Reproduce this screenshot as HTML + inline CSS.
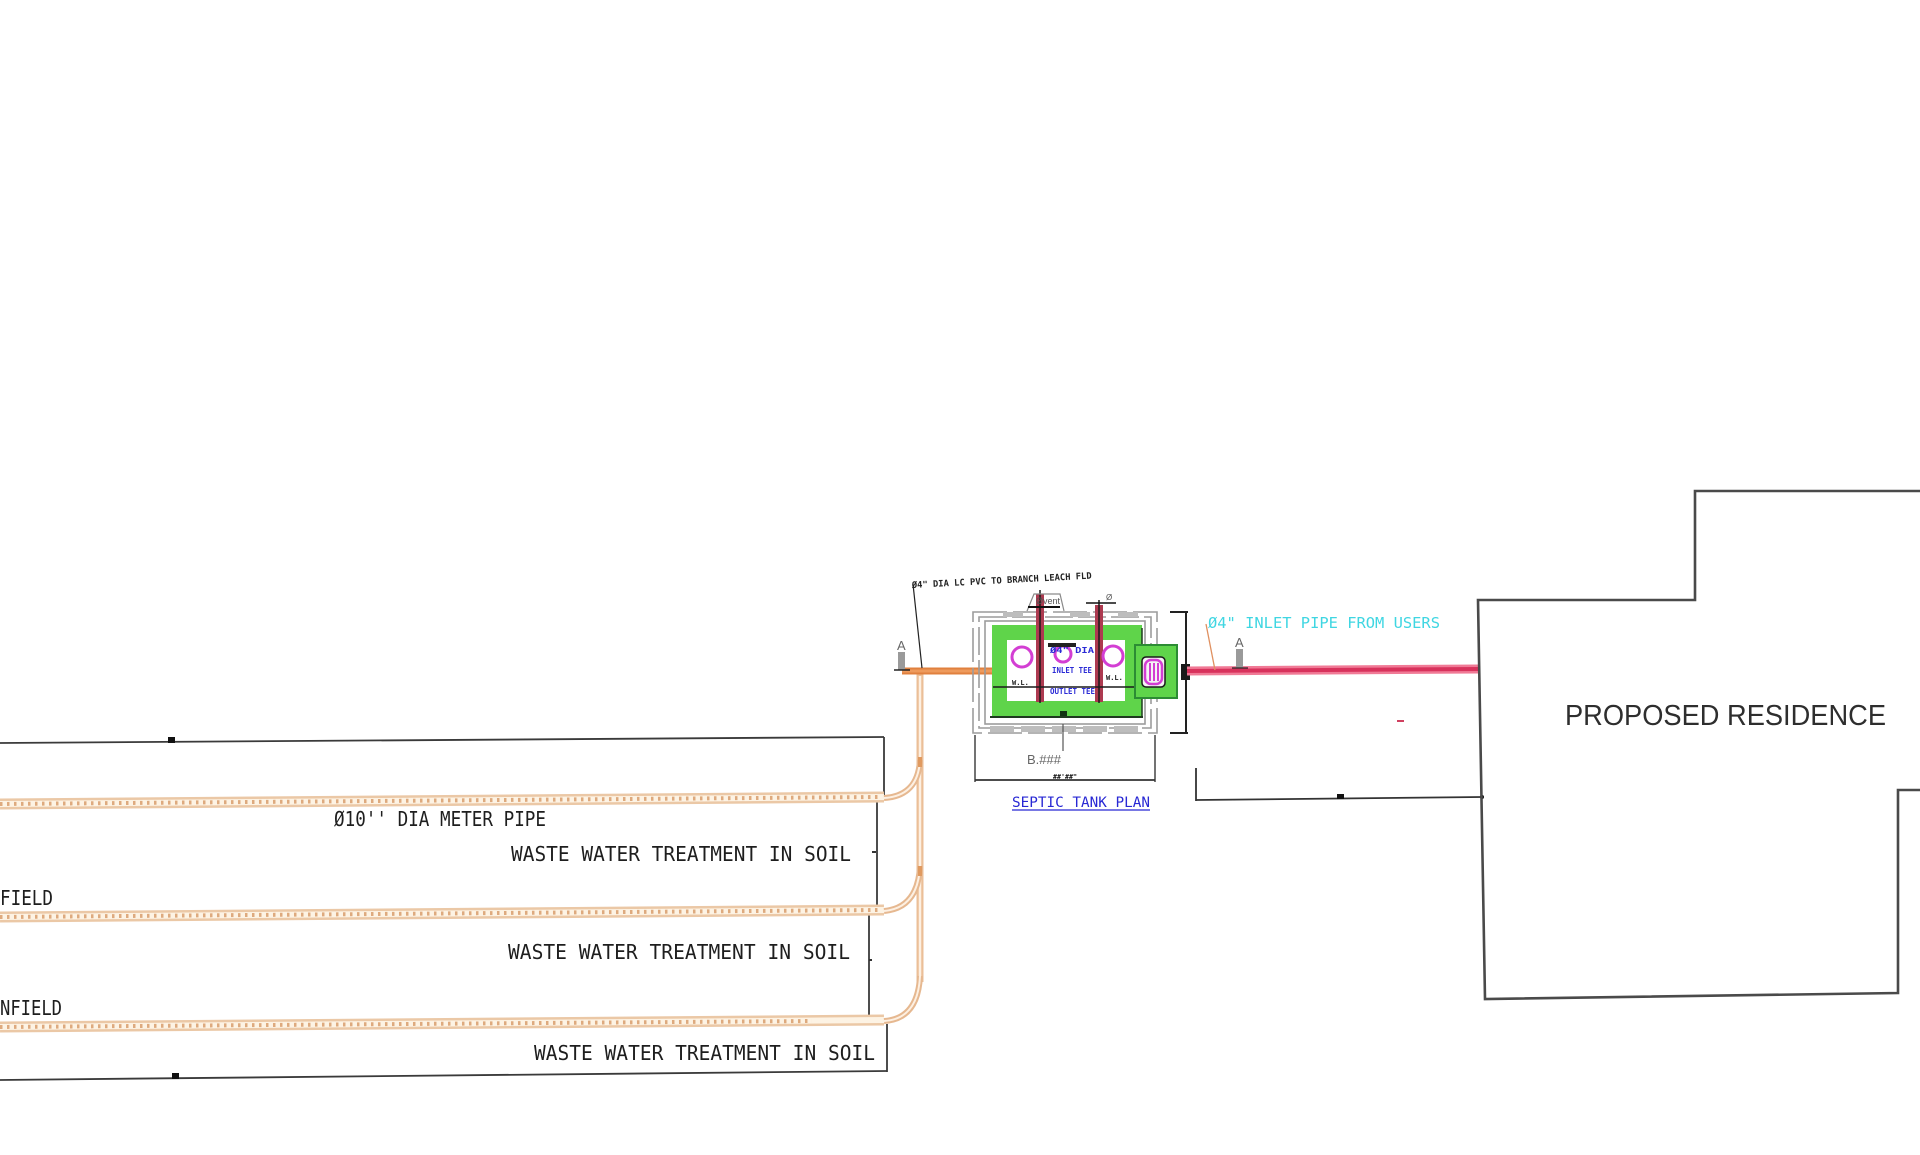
<!DOCTYPE html>
<html>
<head>
<meta charset="utf-8">
<style>
html,body{margin:0;padding:0;background:#fff;}
body{width:1920px;height:1155px;overflow:hidden;position:relative;}
svg{position:absolute;left:0;top:0;}
.mono{font-family:"DejaVu Sans Mono","Liberation Mono",monospace;}
.sans{font-family:"Liberation Sans","DejaVu Sans",sans-serif;}
</style>
</head>
<body>
<svg width="1920" height="1155" viewBox="0 0 1920 1155" xmlns="http://www.w3.org/2000/svg">
<rect width="1920" height="1155" fill="#ffffff"/>

<!-- ================= LEACH FIELD ================= -->
<!-- top boundary line -->
<line x1="0" y1="743" x2="884" y2="737" stroke="#3a3a3a" stroke-width="1.8"/>
<rect x="168" y="737" width="7" height="6" fill="#111"/>
<!-- vertical dimension lines -->
<line x1="884" y1="737" x2="884" y2="797" stroke="#3a3a3a" stroke-width="1.8"/>
<line x1="877" y1="800" x2="877" y2="907" stroke="#3a3a3a" stroke-width="1.8"/>
<line x1="872" y1="852" x2="876" y2="852" stroke="#333" stroke-width="2"/>
<line x1="869" y1="913" x2="869" y2="1015" stroke="#3a3a3a" stroke-width="1.8"/>
<line x1="869" y1="960" x2="872" y2="960" stroke="#333" stroke-width="2"/>
<line x1="887" y1="1024" x2="887" y2="1072" stroke="#3a3a3a" stroke-width="1.8"/>
<!-- bottom boundary -->
<line x1="0" y1="1080" x2="887" y2="1071" stroke="#3a3a3a" stroke-width="1.8"/>
<rect x="172" y="1073" width="7" height="6" fill="#111"/>

<!-- lateral pipes -->
<g>
  <line x1="0" y1="804" x2="884" y2="797" stroke="#ebc8a6" stroke-width="11"/>
  <line x1="0" y1="804" x2="884" y2="797" stroke="#fdf3e4" stroke-width="6"/>
  <line x1="0" y1="804" x2="878" y2="797" stroke="#deaa7e" stroke-width="4" stroke-dasharray="2.5 4.5"/>

  <line x1="0" y1="917" x2="884" y2="910" stroke="#ebc8a6" stroke-width="11"/>
  <line x1="0" y1="917" x2="884" y2="910" stroke="#fdf3e4" stroke-width="6"/>
  <line x1="0" y1="917" x2="878" y2="910" stroke="#deaa7e" stroke-width="4" stroke-dasharray="2.5 4.5"/>

  <line x1="0" y1="1027" x2="884" y2="1020" stroke="#ebc8a6" stroke-width="11"/>
  <line x1="0" y1="1027" x2="884" y2="1020" stroke="#fdf3e4" stroke-width="6"/>
  <line x1="0" y1="1027" x2="812" y2="1021" stroke="#deaa7e" stroke-width="4" stroke-dasharray="2.5 4.5"/>
</g>

<!-- header pipe and bends -->
<g fill="none">
  <line x1="920" y1="671" x2="920" y2="982" stroke="#ebbf98" stroke-width="7"/>
  <line x1="920" y1="676" x2="920" y2="980" stroke="#fdf0e2" stroke-width="2.5"/>
  <path d="M920,760 Q918,796 884,798" stroke="#e6b890" stroke-width="6"/>
  <path d="M920,760 Q918,796 884,798" stroke="#fdf0e2" stroke-width="2"/>
  <path d="M920,866 Q918,908 884,911" stroke="#e6b890" stroke-width="6"/>
  <path d="M920,866 Q918,908 884,911" stroke="#fdf0e2" stroke-width="2"/>
  <path d="M920,976 Q918,1019 884,1021" stroke="#e6b890" stroke-width="6"/>
  <path d="M920,976 Q918,1019 884,1021" stroke="#fdf0e2" stroke-width="2"/>
</g>
<rect x="918" y="757" width="4" height="10" fill="#e09a60"/>
<rect x="918" y="866" width="4" height="10" fill="#e09a60"/>

<!-- field texts -->
<g class="mono" fill="#1e1e1e" font-size="20">
  <text x="334" y="826" textLength="212" lengthAdjust="spacingAndGlyphs">Ø10'' DIA METER PIPE</text>
  <text x="511" y="861" textLength="340" lengthAdjust="spacingAndGlyphs">WASTE WATER TREATMENT IN SOIL</text>
  <text x="508" y="959" textLength="342" lengthAdjust="spacingAndGlyphs">WASTE WATER TREATMENT IN SOIL</text>
  <text x="534" y="1060" textLength="341" lengthAdjust="spacingAndGlyphs">WASTE WATER TREATMENT IN SOIL</text>
  <text x="0" y="905" textLength="53" lengthAdjust="spacingAndGlyphs">FIELD</text>
  <text x="0" y="1015" textLength="62" lengthAdjust="spacingAndGlyphs">NFIELD</text>
</g>

<!-- ================= OUTLET / SEPTIC TANK ================= -->
<!-- orange outlet pipe -->
<line x1="902" y1="671" x2="1000" y2="671" stroke="#e0803e" stroke-width="7"/>
<line x1="902" y1="671" x2="1000" y2="671" stroke="#ee9a5c" stroke-width="3"/>

<!-- left section marker A -->
<text x="897" y="650" class="sans" font-size="13" fill="#666">A</text>
<rect x="898" y="652" width="7" height="18" fill="#9a9a9a"/>
<line x1="894" y1="670" x2="910" y2="670" stroke="#222" stroke-width="1.5"/>

<!-- tank top note + leader -->
<text x="912" y="588" class="mono" font-size="9" font-weight="bold" fill="#222" textLength="180" lengthAdjust="spacingAndGlyphs" transform="rotate(-3 912 588)">Ø4" DIA LC PVC TO BRANCH LEACH FLD</text>
<line x1="913" y1="584" x2="922" y2="668" stroke="#222" stroke-width="1.2"/>

<!-- gray outer structure (nested, dashed) -->
<g fill="none" stroke="#9c9c9c" stroke-width="1.6">
  <rect x="973" y="612" width="184" height="121" stroke-dasharray="34 6"/>
  <rect x="979" y="617" width="172" height="111" stroke-dasharray="28 5"/>
  <rect x="985" y="621" width="160" height="103"/>
</g>
<g fill="#bdbdbd">
  <rect x="990" y="726" width="24" height="6"/>
  <rect x="1021" y="726" width="24" height="6"/>
  <rect x="1052" y="726" width="24" height="6"/>
  <rect x="1083" y="726" width="24" height="6"/>
  <rect x="1114" y="726" width="24" height="6"/>
  <rect x="1003" y="612" width="20" height="5"/>
  <rect x="1070" y="612" width="20" height="5"/>
  <rect x="1118" y="612" width="20" height="5"/>
</g>

<!-- green tank -->
<rect x="992" y="625" width="150" height="92" fill="#5fd44a"/>
<rect x="1007" y="640" width="118" height="61" fill="#ffffff"/>
<line x1="990" y1="717" x2="1143" y2="717" stroke="#1f3a1f" stroke-width="2"/>
<line x1="1142" y1="628" x2="1142" y2="717" stroke="#1f3a1f" stroke-width="1.5"/>
<rect x="1060" y="711" width="7" height="5" fill="#113311"/>

<!-- baffle bars -->
<rect x="1036" y="594" width="8" height="108" fill="#ad3a50"/>
<line x1="1040" y1="590" x2="1040" y2="703" stroke="#1a1a1a" stroke-width="1.5"/>
<rect x="1095" y="605" width="8" height="97" fill="#ad3a50"/>
<line x1="1099" y1="600" x2="1099" y2="703" stroke="#1a1a1a" stroke-width="1.5"/>

<!-- vent / access items on top -->
<path d="M1027,611 L1034,594 L1060,594 L1064,611" fill="none" stroke="#8a8a8a" stroke-width="1.2"/>
<line x1="1028" y1="607" x2="1060" y2="607" stroke="#111" stroke-width="2"/>
<text x="1036" y="604" class="sans" font-size="9" fill="#555">Øvent</text>
<line x1="1086" y1="603" x2="1116" y2="603" stroke="#111" stroke-width="1.5"/>
<text x="1106" y="600" class="sans" font-size="8" fill="#555">Ø</text>

<!-- circles -->
<g fill="none" stroke="#d33ed3" stroke-width="3">
  <circle cx="1022" cy="657" r="10"/>
  <circle cx="1063" cy="654" r="8"/>
  <circle cx="1113" cy="656" r="10"/>
</g>
<rect x="1048" y="643" width="28" height="4" fill="#222"/>

<!-- blue interior notes -->
<g class="mono" font-size="8" font-weight="bold" fill="#2b2bd6">
  <text x="1050" y="653" textLength="44" lengthAdjust="spacingAndGlyphs">Ø4" DIA</text>
  <text x="1052" y="673" textLength="40" lengthAdjust="spacingAndGlyphs">INLET TEE</text>
  <text x="1050" y="694" textLength="45" lengthAdjust="spacingAndGlyphs">OUTLET TEE</text>
</g>
<line x1="993" y1="687" x2="1167" y2="687" stroke="#1a1a1a" stroke-width="1.6"/>
<text x="1012" y="685" class="mono" font-size="7" font-weight="bold" fill="#222">W.L.</text>
<text x="1106" y="680" class="mono" font-size="7" font-weight="bold" fill="#222">W.L.</text>

<!-- inlet box -->
<rect x="1135" y="645" width="42" height="53" fill="#5fd44a" stroke="#2c8c34" stroke-width="2"/>
<rect x="1142" y="657" width="23" height="30" rx="4" fill="#f4f4f4" stroke="#1a1a1a" stroke-width="1.5"/>
<rect x="1145" y="660" width="17" height="24" rx="6" fill="none" stroke="#d33ed3" stroke-width="2.5"/>
<line x1="1150" y1="663" x2="1150" y2="681" stroke="#d33ed3" stroke-width="2"/>
<line x1="1154" y1="663" x2="1154" y2="681" stroke="#d33ed3" stroke-width="2"/>
<line x1="1158" y1="663" x2="1158" y2="681" stroke="#d33ed3" stroke-width="2"/>

<!-- right bracket -->
<line x1="1186" y1="612" x2="1186" y2="733" stroke="#222" stroke-width="2"/>
<line x1="1170" y1="612" x2="1188" y2="612" stroke="#222" stroke-width="2"/>
<line x1="1170" y1="733" x2="1188" y2="733" stroke="#222" stroke-width="2"/>
<rect x="1181" y="664" width="9" height="16" fill="#1a1a1a"/>

<!-- B label -->
<line x1="1063" y1="724" x2="1063" y2="751" stroke="#555" stroke-width="1.2"/>
<text x="1027" y="764" class="sans" font-size="13" fill="#666" textLength="34" lengthAdjust="spacingAndGlyphs">B.###</text>

<!-- bottom dimension -->
<line x1="975" y1="735" x2="975" y2="782" stroke="#444" stroke-width="1.5"/>
<line x1="1155" y1="735" x2="1155" y2="782" stroke="#444" stroke-width="1.5"/>
<line x1="975" y1="780" x2="1155" y2="780" stroke="#333" stroke-width="1.8"/>
<text x="1053" y="779" class="mono" font-size="7" font-weight="bold" fill="#111" textLength="24" lengthAdjust="spacingAndGlyphs">##'##"</text>

<!-- title -->
<text x="1012" y="807" class="mono" font-size="14" fill="#2828d4" textLength="138" lengthAdjust="spacingAndGlyphs">SEPTIC TANK PLAN</text>
<line x1="1012" y1="810" x2="1150" y2="810" stroke="#2828d4" stroke-width="1.2"/>

<!-- ================= INLET PIPE ================= -->
<line x1="1187" y1="671" x2="1479" y2="669" stroke="#f07a96" stroke-width="9"/>
<line x1="1187" y1="671" x2="1479" y2="669" stroke="#d8325c" stroke-width="4"/>
<text x="1208" y="628" class="mono" font-size="15" fill="#3fd6e2" textLength="232" lengthAdjust="spacingAndGlyphs">Ø4" INLET PIPE FROM USERS</text>
<line x1="1206" y1="624" x2="1215" y2="670" stroke="#e09060" stroke-width="1.3"/>
<!-- right section marker A -->
<text x="1235" y="647" class="sans" font-size="13" fill="#666">A</text>
<rect x="1236" y="649" width="7" height="19" fill="#9a9a9a"/>
<line x1="1232" y1="668" x2="1248" y2="668" stroke="#222" stroke-width="1.2"/>
<!-- small red dash -->
<line x1="1397" y1="721" x2="1404" y2="721" stroke="#d04060" stroke-width="2"/>

<!-- right dimension -->
<line x1="1196" y1="768" x2="1196" y2="801" stroke="#333" stroke-width="1.8"/>
<line x1="1196" y1="800" x2="1482" y2="797" stroke="#333" stroke-width="1.8"/>
<rect x="1337" y="794" width="7" height="5" fill="#111"/>
<circle cx="1482" cy="797" r="2" fill="#111"/>

<!-- ================= RESIDENCE ================= -->
<polyline points="1922,491 1695,491 1695,600 1478,600 1485,999 1898,993 1898,790 1922,790" fill="none" stroke="#4a4a4a" stroke-width="2.6"/>
<text x="1565" y="725" class="sans" font-size="29" fill="#2e2e2e" textLength="321" lengthAdjust="spacingAndGlyphs">PROPOSED RESIDENCE</text>

</svg>
</body>
</html>
